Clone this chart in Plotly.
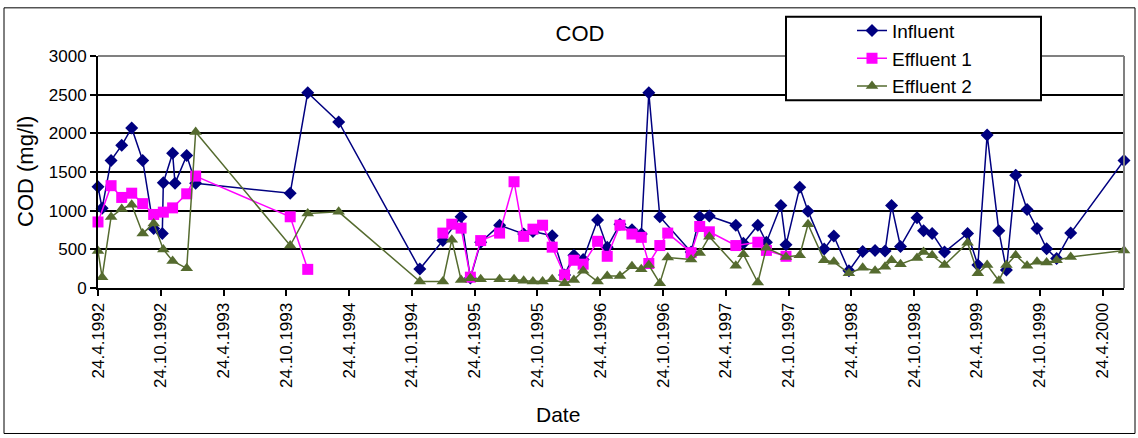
import plotly.graph_objects as go

# ---------------- data ----------------
influent_dates = [
    "1992-04-24", "1992-05-06", "1992-06-01", "1992-07-02", "1992-07-31", "1992-09-01",
    "1992-10-03", "1992-10-28", "1992-10-31", "1992-11-27", "1992-12-04", "1993-01-07",
    "1993-02-02", "1993-11-04", "1993-12-25", "1994-03-25", "1994-11-16", "1995-01-22",
    "1995-03-16", "1995-04-12", "1995-05-12", "1995-07-06", "1995-09-14", "1995-10-11",
    "1995-12-06", "1996-01-11", "1996-02-07", "1996-03-05", "1996-04-16", "1996-05-14",
    "1996-06-20", "1996-07-25", "1996-08-21", "1996-09-12", "1996-10-14", "1997-01-13",
    "1997-02-07", "1997-03-07", "1997-05-23", "1997-06-14", "1997-07-26", "1997-08-20",
    "1997-10-01", "1997-10-16", "1997-11-25", "1997-12-19", "1998-02-04", "1998-03-04",
    "1998-04-17", "1998-05-27", "1998-07-02", "1998-07-31", "1998-08-19", "1998-09-14",
    "1998-11-01", "1998-11-20", "1998-12-15", "1999-01-20", "1999-03-28", "1999-04-27",
    "1999-05-24", "1999-06-27", "1999-07-19", "1999-08-15", "1999-09-17", "1999-10-16",
    "1999-11-13", "1999-12-12", "2000-01-22", "2000-06-25",
]
influent_cod = [
    1310, 1030, 1650, 1845, 2070, 1650,
    770, 706, 1362, 1742, 1353, 1713,
    1353, 1226, 2525, 2148, 245, 613,
    922, 130, 592, 812, 698, 731,
    676, 169, 423, 368, 879, 528,
    825, 753, 698, 2525, 922, 464,
    922, 930, 812, 579, 812, 592,
    1066, 558, 1302, 994, 503, 672,
    223, 473, 486, 477, 1066, 537,
    909, 740, 706, 464, 706, 296,
    1980, 740, 232, 1459, 1015, 769,
    507, 381, 710, 1650,
]

effluent1_dates = [
    "1992-04-24", "1992-06-01", "1992-07-02", "1992-07-31", "1992-09-01", "1992-10-03",
    "1992-10-31", "1992-11-27", "1993-01-07", "1993-02-02", "1993-11-04", "1993-12-25",
    "1994-06-01", "1995-01-22", "1995-02-17", "1995-03-16", "1995-04-12", "1995-05-12",
    "1995-07-06", "1995-08-17", "1995-09-14", "1995-10-11", "1995-11-08", "1995-12-06",
    "1996-01-11", "1996-02-07", "1996-03-05", "1996-04-16", "1996-05-14", "1996-06-20",
    "1996-07-25", "1996-08-21", "1996-09-12", "1996-10-14", "1996-11-06", "1997-01-13",
    "1997-02-07", "1997-03-07", "1997-05-23", "1997-07-26", "1997-08-20", "1997-10-16",
]
effluent1_cod = [
    854, 1323, 1171, 1226, 1091, 951,
    981, 1036, 1218, 1447, 921, 241,
    None, 710, 825, 774, 140, 613,
    710, 1374, 668, 761, 812, 528,
    169, 359, 308, 604, 410, 812,
    698, 655, 317, 549, 710, 457,
    795, 727, 549, 592, 486, 410,
]

effluent2_dates = [
    "1992-04-24", "1992-05-06", "1992-06-01", "1992-07-02", "1992-07-31", "1992-09-01",
    "1992-10-03", "1992-10-31", "1992-11-27", "1993-01-07", "1993-02-02", "1993-11-04",
    "1993-12-25", "1994-03-25", "1994-11-16", "1995-01-22", "1995-02-17", "1995-03-16",
    "1995-04-12", "1995-05-12", "1995-07-06", "1995-08-17", "1995-09-14", "1995-10-11",
    "1995-11-08", "1995-12-06", "1996-01-11", "1996-02-07", "1996-03-05", "1996-04-16",
    "1996-05-14", "1996-06-20", "1996-07-25", "1996-08-21", "1996-09-12", "1996-10-14",
    "1996-11-06", "1997-01-13", "1997-02-07", "1997-03-07", "1997-05-23", "1997-06-14",
    "1997-07-26", "1997-08-20", "1997-10-16", "1997-11-25", "1997-12-19", "1998-02-04",
    "1998-03-04", "1998-04-17", "1998-05-27", "1998-07-02", "1998-07-31", "1998-08-19",
    "1998-09-14", "1998-11-01", "1998-11-20", "1998-12-15", "1999-01-20", "1999-03-28",
    "1999-04-27", "1999-05-24", "1999-06-27", "1999-07-19", "1999-08-15", "1999-09-17",
    "1999-10-16", "1999-11-13", "1999-12-12", "2000-01-22", "2000-06-25",
]
effluent2_cod = [
    477, 140, 917, 1023, 1078, 706,
    833, 499, 350, 254, 2018, 549,
    964, 985, 84, 84, 625, 105,
    127, 114, 114, 114, 93, 84,
    84, 114, 63, 105, 223, 84,
    156, 156, 280, 241, 296, 63,
    393, 368, 452, 664, 287, 435,
    71, 520, 401, 423, 825, 359,
    338, 190, 262, 223, 274, 359,
    308, 389, 464, 423, 296, 584,
    190, 296, 93, 296, 423, 287,
    338, 330, 359, 401, 486,
]

tick_dates = [
    "1992-04-24", "1992-10-24", "1993-04-24", "1993-10-24", "1994-04-24", "1994-10-24",
    "1995-04-24", "1995-10-24", "1996-04-24", "1996-10-24", "1997-04-24", "1997-10-24",
    "1998-04-24", "1998-10-24", "1999-04-24", "1999-10-24", "2000-04-24",
]
tick_labels = [
    "24.4.1992", "24.10.1992", "24.4.1993", "24.10.1993", "24.4.1994", "24.10.1994",
    "24.4.1995", "24.10.1995", "24.4.1996", "24.10.1996", "24.4.1997", "24.10.1997",
    "24.4.1998", "24.10.1998", "24.4.1999", "24.10.1999", "24.4.2000",
]
y_ticks = [0, 500, 1000, 1500, 2000, 2500, 3000]
x_range = ["1992-04-24", "2000-06-25"]
y_range = [0, 3000]

FONT = "Liberation Sans, Arial, sans-serif"
NAVY = "#000080"
MAGENTA = "#FF00FF"
OLIVE = "#556B2F"

fig = go.Figure()
fig.add_trace(go.Scatter(
    x=influent_dates, y=influent_cod, name="Influent", mode="lines+markers",
    line=dict(color=NAVY, width=1.5),
    marker=dict(symbol="diamond", size=10, color=NAVY),
    cliponaxis=False,
))
fig.add_trace(go.Scatter(
    x=effluent1_dates, y=effluent1_cod, name="Effluent 1", mode="lines+markers",
    line=dict(color=MAGENTA, width=1.5),
    marker=dict(symbol="square", size=11, color=MAGENTA),
    cliponaxis=False, connectgaps=False,
))
fig.add_trace(go.Scatter(
    x=effluent2_dates, y=effluent2_cod, name="Effluent 2", mode="lines+markers",
    line=dict(color=OLIVE, width=1.5),
    marker=dict(symbol="triangle-up", size=11, color=OLIVE),
    cliponaxis=False,
))

L, R, T, B = 98, 14, 52, 150
W, H = 1138, 438
pw = W - L - R
ph = H - T - B


def px_x(x):
    return (x - L) / pw


def px_y(y):
    return (H - B - y) / ph


fig.update_layout(
    width=W, height=H,
    margin=dict(l=L, r=R, t=T, b=B),
    paper_bgcolor="white", plot_bgcolor="white",
    font=dict(family=FONT, color="black", size=17),
    showlegend=True,
    legend=dict(
        x=px_x(852), y=px_y(7), xanchor="left", yanchor="top",
        bgcolor="rgba(0,0,0,0)", borderwidth=0,
        font=dict(family=FONT, size=19, color="black"),
        tracegroupgap=0,
    ),
    title=dict(
        text="COD", x=580 / W, y=1 - 33 / H, xref="container", yref="container",
        xanchor="center", yanchor="middle",
        font=dict(family=FONT, size=22, color="black"),
    ),
    xaxis=dict(
        type="date", range=x_range,
        tickmode="array", tickvals=tick_dates, ticktext=tick_labels,
        tickangle=-90, ticks="outside", ticklen=6, tickwidth=1.5, tickcolor="black",
        showline=True, linecolor="black", linewidth=2,
        showgrid=False, zeroline=False,
        tickfont=dict(family=FONT, size=17, color="black"),
    ),
    yaxis=dict(
        range=y_range, tickmode="array", tickvals=y_ticks,
        ticks="outside", ticklen=6, tickwidth=1.5, tickcolor="black",
        showline=True, linecolor="black", linewidth=2,
        showgrid=True, gridcolor="black", gridwidth=1.6,
        zeroline=False,
        tickfont=dict(family=FONT, size=17, color="black"),
    ),
    shapes=[
        # gray plot border (top and right)
        dict(type="line", xref="paper", yref="paper", x0=0, x1=1, y0=1, y1=1,
             line=dict(color="#808080", width=2), layer="above"),
        dict(type="line", xref="paper", yref="paper", x0=1, x1=1, y0=0, y1=1,
             line=dict(color="#808080", width=2), layer="above"),
        # legend box
        dict(type="rect", xref="paper", yref="paper",
             x0=px_x(786), x1=px_x(1041), y0=px_y(97), y1=px_y(12),
             line=dict(color="black", width=2), fillcolor="white", layer="above"),
        # outer chart frame
        dict(type="rect", xref="paper", yref="paper",
             x0=px_x(4), x1=px_x(1135), y0=px_y(436), y1=px_y(3),
             line=dict(color="black", width=1), fillcolor="rgba(0,0,0,0)", layer="above"),
    ],
    annotations=[
        dict(text="Date", xref="paper", yref="paper", x=px_x(558), y=px_y(417),
             xanchor="center", yanchor="middle", showarrow=False,
             font=dict(family=FONT, size=21, color="black")),
        dict(text="COD (mg/l)", xref="paper", yref="paper", x=px_x(25), y=px_y(170),
             xanchor="center", yanchor="middle", showarrow=False, textangle=-90,
             font=dict(family=FONT, size=22, color="black")),
    ],
)

fig.write_html("out.html")
